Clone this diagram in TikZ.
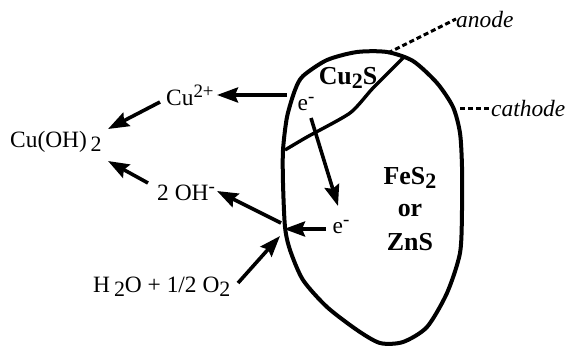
\documentclass[tikz,border=0pt]{standalone}
\usepackage{fontspec}
\setmainfont{Liberation Serif}
\usetikzlibrary{arrows.meta}
\newcommand{\dnsub}[1]{\raisebox{-0.4ex}{\fontsize{22}{22}\selectfont #1}}
\newcommand{\upsup}[1]{\raisebox{0.75ex}{\fontsize{19}{19}\selectfont #1}}
\begin{document}
\begin{tikzpicture}[x=1bp,y=-1bp,
  lbl/.style={inner sep=0pt,font=\fontsize{23.5}{25}\selectfont},
  blbl/.style={inner sep=0pt,font=\fontsize{26}{28}\selectfont\bfseries},
  ilbl/.style={inner sep=0pt,font=\fontsize{23.5}{25}\selectfont\itshape},
  arr/.style={line width=3.6bp,-{Stealth[length=21bp,width=15bp,inset=3bp]}},
  outline/.style={line width=4bp,line join=round},
  dash line/.style={line width=3bp,dash pattern=on 5bp off 3bp}]
\useasboundingbox (0,0) rectangle (566,345);
% grain outline
\draw[outline] plot[smooth cycle,tension=0.45] coordinates {
 (387,52) (413,61) (437,83) (453,107) (460,133) (462,167) (462,210)
 (460,253) (447,293) (427,327) (403,342) (380,343) (357,330) (327,307)
 (303,280) (290,250) (285,227) (283,183) (283,150) (287,117) (295,90)
 (303,76) (327,60) (357,52)};
% Cu2S boundary
\draw[line width=3.4bp,line join=round] plot[smooth,tension=0.4] coordinates {
 (404,57) (373,88) (350,113) (307,137) (285,150)};
% dashed leaders
\coordinate (an0) at (388,53);
\coordinate (ca0) at (460,108);
\node[ilbl,anchor=west] (anode) at (456,19) {anode};
\node[ilbl,anchor=west] (cathode) at (491,108) {cathode};
\draw[dash line] (an0) -- (anode.west);
\draw[dash line] (ca0) -- (cathode.west);
% labels
\node[blbl] (cus) at (348,78) {Cu\dnsub{\bfseries 2}S};
\node[blbl] (fes) at (410,178) {FeS\dnsub{\bfseries 2}};
\node[blbl] (or) at (410,210) {or};
\node[blbl] (zns) at (410,242) {ZnS};
\node[lbl] (e1) at (306,104) {e\upsup{-}};
\node[lbl] (e2) at (341,227) {e\upsup{-}};
\node[lbl,anchor=west] (cu2) at (166,95) {Cu\upsup{2+}};
\node[lbl,anchor=west] (cuoh) at (10,142) {Cu(OH)\dnsub{\,2}};
\node[lbl,anchor=west] (oh) at (157,193) {2 OH\upsup{-}};
\node[lbl,anchor=west] (h2o) at (93,287) {H\,\dnsub{2}O + 1/2 O\dnsub{2}};
% arrow endpoints
\coordinate (s1) at (287,95);
\coordinate (t1) at (217,95);
\coordinate (s2) at (160,102);
\coordinate (t2) at (108,129);
\coordinate (s3) at (148,183);
\coordinate (t3) at (108,161);
\coordinate (j) at (281,223);
\coordinate (t4) at (217,191);
\coordinate (s5) at (238,283);
\coordinate (t5) at (280,236);
\coordinate (s6) at (311,118);
\coordinate (t6) at (338,206);
\coordinate (s7) at (326,229);
\coordinate (t7) at (284,229);
\draw[arr] (s1) -- (t1);
\draw[arr] (s2) -- (t2);
\draw[arr] (s3) -- (t3);
\draw[arr] (j) -- (t4);
\draw[arr] (s5) -- (t5);
\draw[arr] (s6) -- (t6);
\draw[arr] (s7) -- (t7);
\end{tikzpicture}
\end{document}
